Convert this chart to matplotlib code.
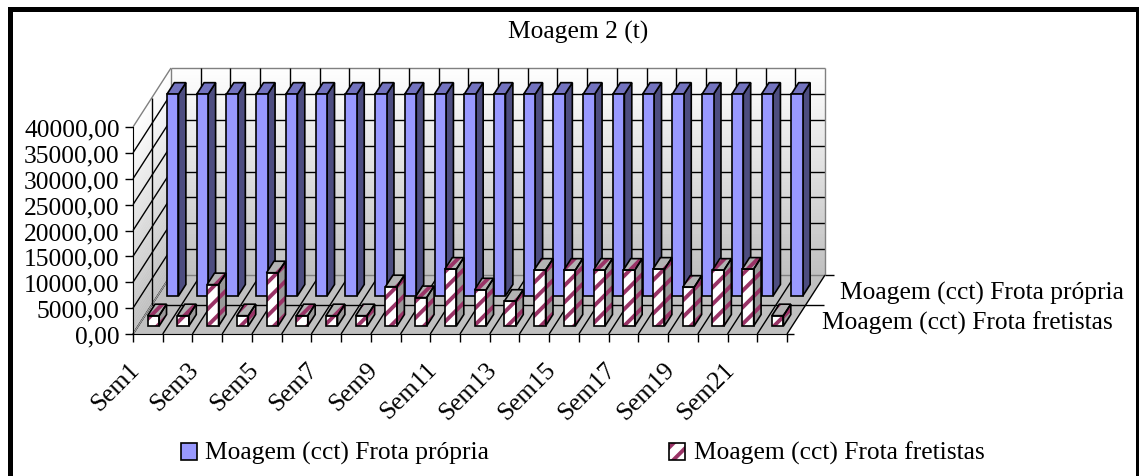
# Moagem 2 (t) - imitation of an old 3D clustered column chart, drawn in 2D
import matplotlib
matplotlib.use("Agg")
import matplotlib.pyplot as plt
from matplotlib.patches import Polygon, Rectangle

plt.rcParams["font.family"] = ["Liberation Serif", "DejaVu Serif"]
plt.rcParams["hatch.linewidth"] = 2.8

# ── DATA ────────────────────────────────────────────────────
semanas = ["Sem%d" % i for i in range(1, 23)]
frota_propria = [39000] * 22
frota_fretistas = [2000, 2000, 8000, 2000, 10300, 2000, 2000, 2000, 7600, 5500, 11000,
                   7000, 4800, 10800, 10800, 10800, 10800, 11000, 7500, 10800, 11000, 2000]
y_ticks = [0, 5000, 10000, 15000, 20000, 25000, 30000, 35000, 40000]
serie_propria = "Moagem (cct) Frota própria"
serie_fretistas = "Moagem (cct) Frota fretistas"

W, H = 1139, 477
DPI = 100
X0, X1, Y0, Y1 = 133, 787, 335, 128   # front plane, pixels
DX, DY = 38, 59                       # full depth of the box, pixels
FS = 18.4
PURPLE = "#993366"

fig = plt.figure(figsize=(W / DPI, H / DPI), dpi=DPI, facecolor="white")
ax = fig.add_axes([X0 / W, 1 - Y0 / H, (X1 - X0) / W, (Y0 - Y1) / H])
ax.patch.set_visible(False)
ax.spines[["top", "right"]].set_visible(False)

ux = 22 / (X1 - X0)        # categories per pixel
uy = 40000 / (Y0 - Y1)     # value per pixel


def proj(x, v, d):
    # d is depth 0..1 into the box
    return (x + d * DX * ux, v + d * DY * uy)


def quad(pts, **kw):
    p = Polygon(pts, closed=True, clip_on=False, **kw)
    ax.add_patch(p)
    return p


def grey(t):
    # wall gradient, t=0 at the floor, t=1 at the top
    g = 0.75 + 0.25 * t
    return (g, g, g)


# walls with a gradient
n = 60
for i in range(n):
    a, b = 40000 * i / n, 40000 * (i + 1) / n
    c = grey((i + 0.5) / n)
    quad([proj(0, a, 1), proj(22, a, 1), proj(22, b, 1), proj(0, b, 1)], fc=c, ec=c, lw=0.3, zorder=1)
    quad([proj(0, a, 0), proj(0, a, 1), proj(0, b, 1), proj(0, b, 0)], fc=c, ec=c, lw=0.3, zorder=1)

# floor
quad([proj(0, 0, 0), proj(22, 0, 0), proj(22, 0, 1), proj(0, 0, 1)], fc="#c0c0c0", ec="none", zorder=1)


def line(p, q, c="black", lw=1.0, z=2):
    ax.plot([p[0], q[0]], [p[1], q[1]], color=c, lw=lw, clip_on=False, zorder=z, solid_capstyle="butt")


for v in y_ticks:
    edge = "#808080" if v in (0, 40000) else "black"
    line(proj(0, v, 0), proj(0, v, 1), edge if v == 40000 else "black")
    line(proj(0, v, 1), proj(22, v, 1), edge)
for k in range(23):
    line(proj(k, 0, 0), proj(k, 0, 1))
    line(proj(k, 0, 1), proj(k, 40000, 1), "#808080" if k in (0, 22) else "black")
line(proj(0, 0, 0), proj(0, 0, 1), "#a0a0a0")
line(proj(0, 0, 0.5), proj(0, 40000, 0.5))
line(proj(0, 0, 0.5), proj(22.6, 0, 0.5))
line(proj(22, 0, 1), proj(22.3, 0, 1))
line(proj(22, 0, 0), proj(22.25, 0, 0))


def bar3d(k, v, d0, fronts, z, hatch=None):
    # one column: side, top and front faces
    gap, w, dd = 9.5 * ux, 11.5 * ux, 0.195
    xa, xb = k + gap, k + gap + w
    front = [proj(xa, 0, d0), proj(xb, 0, d0), proj(xb, v, d0), proj(xa, v, d0)]
    side = [proj(xb, 0, d0), proj(xb, 0, d0 + dd), proj(xb, v, d0 + dd), proj(xb, v, d0)]
    top = [proj(xa, v, d0), proj(xb, v, d0), proj(xb, v, d0 + dd), proj(xa, v, d0 + dd)]
    for pts, col in zip((side, top, front), fronts):
        if hatch:
            quad(pts, fc=col, ec=PURPLE, hatch=hatch, lw=0, zorder=z)
        quad(pts, fc=col if not hatch else "none", ec="black", lw=1.2, zorder=z + 0.01)


# back row first, then the front row over it
for k, v in enumerate(frota_propria):
    bar3d(k, v, 0.644, ("#4d4d80", "#7373bf", "#9999ff"), 3 + k * 0.1)
for k, v in enumerate(frota_fretistas):
    bar3d(k, v, 0.135, ("#999999", "#b3b3b3", "white"), 6 + k * 0.1, hatch="//")

# axes ticks and labels
ax.set_yticks(y_ticks)
ax.set_yticklabels(["%d,00" % v for v in y_ticks], fontsize=FS)
ax.tick_params(axis="y", length=6, width=1.0, pad=3.5)
ax.set_xticks(range(23))
ax.set_xticklabels([])
ax.tick_params(axis="x", which="major", length=5.5, width=1.0)
ax.set_xlim(0, 22)
ax.set_ylim(0, 40000)

# every second week, slanted, ending left of the category
for k in range(0, 22, 2):
    ax.annotate(semanas[k], xy=(k + 0.5, 0), xytext=(-14, -17), textcoords="offset points",
                rotation=45, ha="right", va="top", rotation_mode="anchor",
                fontsize=FS, annotation_clip=False)

# title, series names on the depth axis
fig.text(578 / W, 1 - 32 / H, "Moagem 2 (t)", ha="center", va="center", fontsize=FS)
fig.text(840 / W, 1 - 293 / H, serie_propria, ha="left", va="center", fontsize=FS)
fig.text(822 / W, 1 - 323 / H, serie_fretistas, ha="left", va="center", fontsize=FS)

# legend
fig.add_artist(Rectangle((181 / W, 1 - 461 / H), 16 / W, 17 / H, transform=fig.transFigure,
                         fc="#9999ff", ec="black", lw=1.2))
fig.add_artist(Rectangle((669 / W, 1 - 461 / H), 16 / W, 17 / H, transform=fig.transFigure,
                         fc="white", ec=PURPLE, lw=0, hatch="//"))
fig.add_artist(Rectangle((669 / W, 1 - 461 / H), 16 / W, 17 / H, transform=fig.transFigure,
                         fc="none", ec="black", lw=1.2))
fig.text(205 / W, 1 - 453 / H, serie_propria, ha="left", va="center", fontsize=FS)
fig.text(694 / W, 1 - 453 / H, serie_fretistas, ha="left", va="center", fontsize=FS)

# black frame of the screenshot
fig.add_artist(Rectangle((8 / W, 0), 5 / W, 1 - 8 / H, transform=fig.transFigure, fc="black", ec="none"))
fig.add_artist(Rectangle((1136 / W, 0), 3 / W, 1 - 8 / H, transform=fig.transFigure, fc="black", ec="none"))
fig.add_artist(Rectangle((8 / W, 1 - 13 / H), 1 - 8 / W, 5 / H, transform=fig.transFigure, fc="black", ec="none"))

fig.savefig("out.png", dpi=DPI)
